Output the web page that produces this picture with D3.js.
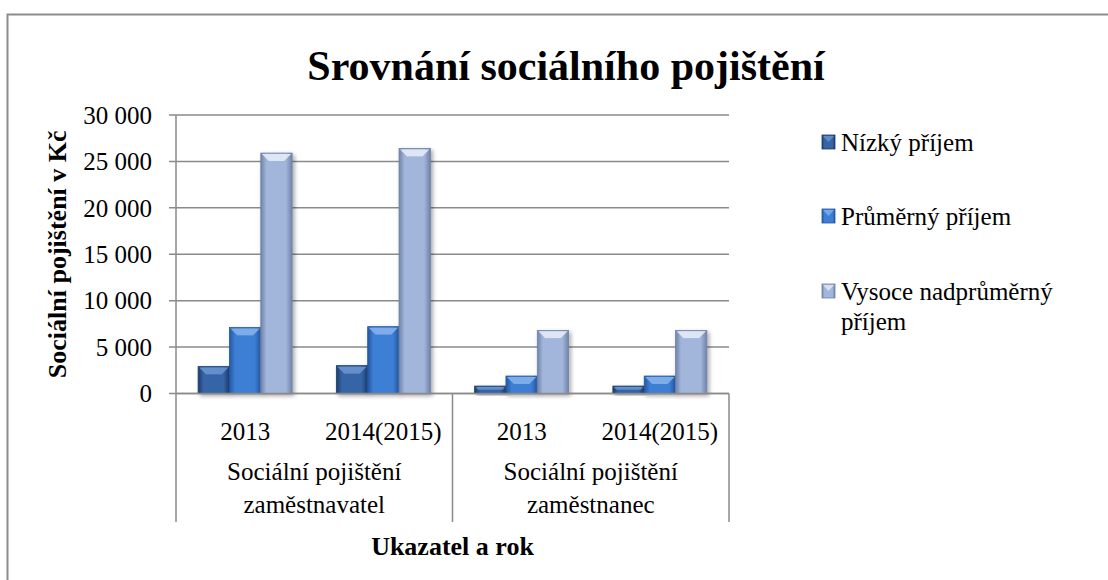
<!DOCTYPE html>
<html>
<head>
<meta charset="utf-8">
<script src="https://cdnjs.cloudflare.com/ajax/libs/d3/7.8.5/d3.min.js"></script>
<style>
  body { margin: 0; background: #fff; }
  svg, svg text, svg tspan { font-family: "Liberation Serif", "DejaVu Serif", serif; fill: #000; }
</style>
</head>
<body>
<div id="chart"></div>
<script>
let w = 1108, h = 580;

// data
let groups = ["Sociální pojištění zaměstnavatel", "Sociální pojištění zaměstnanec"];
let years = ["2013", "2014(2015)"];
let series = ["Nízký příjem", "Průměrný příjem", "Vysoce nadprůměrný příjem"];
let nizky = [2900, 3000, 800, 800];
let prumerny = [7100, 7200, 1880, 1880];
let vysoce = [25900, 26400, 6800, 6800];
let yTicks = [0, 5000, 10000, 15000, 20000, 25000, 30000];

let categories = [];
groups.forEach(g => years.forEach(y => categories.push(g + "|" + y)));
let values = [nizky, prumerny, vysoce];

let colors = [
    {edge: "#1d3d6e", mid: "#3565a6", top: "#6a93cf"},
    {edge: "#2457a3", mid: "#3d7fd4", top: "#84b1ea"},
    {edge: "#6f82a8", mid: "#a2b5da", top: "#e4ebf7"}
];
let serif = "Liberation Serif";

let svg = d3.select("#chart").append("svg")
    .attr("width", w)
    .attr("height", h)
    .attr("font-family", serif);

let defs = svg.append("defs");
colors.forEach((c, i) => {
    let g = defs.append("linearGradient")
        .attr("id", "grad" + i)
        .attr("x1", 0).attr("x2", 1).attr("y1", 0).attr("y2", 0);
    g.append("stop").attr("offset", "0%").attr("stop-color", c.edge);
    g.append("stop").attr("offset", "18%").attr("stop-color", c.mid);
    g.append("stop").attr("offset", "80%").attr("stop-color", c.mid);
    g.append("stop").attr("offset", "100%").attr("stop-color", c.edge);
});
let shadow = defs.append("filter").attr("id", "shadow")
    .attr("x", "-20%").attr("y", "-20%").attr("width", "150%").attr("height", "150%");
shadow.append("feDropShadow")
    .attr("dx", 2).attr("dy", 2).attr("stdDeviation", 2)
    .attr("flood-color", "#000").attr("flood-opacity", 0.35);

// outer border (only top and left visible)
svg.append("path")
    .attr("d", `M7.5,${h} V14.5 H${w}`)
    .attr("fill", "none")
    .attr("stroke", "#8c8c8c")
    .attr("stroke-width", 2);

let plotL = 176, plotR = 729, plotT = 115, plotB = 393.5;

let y = d3.scaleLinear().domain([0, 30000]).range([plotB, plotT]);
let x0 = d3.scaleBand().domain(categories).range([plotL, plotR]);
let x1 = d3.scaleBand().domain(series)
    .range([x0.bandwidth() * 0.16, x0.bandwidth() * 0.84]);

let loc = d3.formatLocale({decimal: ",", thousands: " ", grouping: [3], currency: ["", ""]});
let fmt = loc.format(",");

// gridlines
svg.append("g").selectAll("line")
    .data(yTicks)
    .enter()
    .append("line")
    .attr("x1", plotL - 7)
    .attr("x2", plotR)
    .attr("y1", d => y(d))
    .attr("y2", d => y(d))
    .attr("stroke", "#8a8a8a")
    .attr("stroke-width", 1.5);

// y axis line
svg.append("line")
    .attr("x1", plotL).attr("x2", plotL)
    .attr("y1", plotT).attr("y2", plotB)
    .attr("stroke", "#8a8a8a").attr("stroke-width", 1.5);

// y tick labels
svg.append("g").selectAll("text")
    .data(yTicks)
    .enter()
    .append("text")
    .attr("font-family", serif)
    .attr("x", plotL - 24)
    .attr("y", d => y(d))
    .attr("dy", "0.35em")
    .attr("text-anchor", "end")
    .attr("font-size", 25)
    .text(d => fmt(d));

// bars
let bars = svg.append("g");
categories.forEach((cat, ci) => {
    series.forEach((s, si) => {
        let v = values[si][ci];
        let bx = x0(cat) + x1(s);
        let bw = x1.bandwidth();
        let by = y(v);
        let bh = y(0) - y(v);
        let bev = Math.min(8, bh / 2);
        let g = bars.append("g").attr("filter", "url(#shadow)");
        g.append("rect")
            .attr("x", bx)
            .attr("y", by)
            .attr("width", bw)
            .attr("height", bh)
            .attr("fill", `url(#grad${si})`)
            .attr("stroke", colors[si].edge)
            .attr("stroke-width", 0.8);
        g.append("path")
            .attr("d", `M${bx + 1},${by + 1} L${bx + bw - 1},${by + 1} L${bx + bw - bev},${by + bev} L${bx + bev},${by + bev} Z`)
            .attr("fill", colors[si].top)
            .attr("opacity", 0.9);
        g.append("path")
            .attr("d", `M${bx + bev},${by + bev} L${bx + bw - bev},${by + bev} L${bx + bw / 2},${by + bev + Math.min(6, bh / 3)} Z`)
            .attr("fill", colors[si].mid)
            .attr("opacity", 0.6);
    });
});

// x axis baseline
svg.append("line")
    .attr("x1", plotL).attr("x2", plotR)
    .attr("y1", plotB).attr("y2", plotB)
    .attr("stroke", "#8a8a8a").attr("stroke-width", 1.5);

// group separators
let sepY2 = 522;
let sepXs = [plotL];
groups.forEach(g => sepXs.push(x0(g + "|" + years[years.length - 1]) + x0.bandwidth()));
svg.append("g").selectAll("line")
    .data(sepXs)
    .enter()
    .append("line")
    .attr("x1", d => d).attr("x2", d => d)
    .attr("y1", plotB).attr("y2", sepY2)
    .attr("stroke", "#8a8a8a").attr("stroke-width", 1.5);

// year labels
svg.append("g").selectAll("text")
    .data(categories)
    .enter()
    .append("text")
    .attr("font-family", serif)
    .attr("x", d => x0(d) + x0.bandwidth() / 2)
    .attr("y", 440)
    .attr("text-anchor", "middle")
    .attr("font-size", 25)
    .text(d => d.split("|")[1]);

// group labels
groups.forEach(g => {
    let cx = (x0(g + "|" + years[0]) + x0(g + "|" + years[1]) + x0.bandwidth()) / 2;
    let words = g.split(" ");
    let t = svg.append("text")
        .attr("font-family", serif)
        .attr("text-anchor", "middle")
        .attr("font-size", 25);
    t.append("tspan").attr("x", cx).attr("y", 480).text(words.slice(0, 2).join(" "));
    t.append("tspan").attr("x", cx).attr("y", 513).text(words.slice(2).join(" "));
});

// axis titles
svg.append("text")
    .attr("font-family", serif)
    .attr("x", (plotL + plotR) / 2)
    .attr("y", 555)
    .attr("text-anchor", "middle")
    .attr("font-size", 26)
    .attr("font-weight", "bold")
    .text("Ukazatel a rok");

svg.append("text")
    .attr("font-family", serif)
    .attr("transform", `translate(66, ${(plotT + plotB) / 2}) rotate(-90)`)
    .attr("text-anchor", "middle")
    .attr("font-size", 26)
    .attr("font-weight", "bold")
    .text("Sociální pojištění v Kč");

// title
svg.append("text")
    .attr("font-family", serif)
    .attr("x", 566)
    .attr("y", 80)
    .attr("text-anchor", "middle")
    .attr("font-size", 42)
    .attr("font-weight", "bold")
    .text("Srovnání sociálního pojištění");

// legend
let legendY = [142, 216, 291];
let legend = svg.append("g");
series.forEach((s, i) => {
    legend.append("rect")
        .attr("x", 822)
        .attr("y", legendY[i] - 7)
        .attr("width", 13)
        .attr("height", 14)
        .attr("fill", `url(#grad${i})`)
        .attr("stroke", colors[i].edge)
        .attr("stroke-width", 0.8);
    legend.append("path")
        .attr("d", `M823,${legendY[i] - 6} L834,${legendY[i] - 6} L828.5,${legendY[i]} Z`)
        .attr("fill", colors[i].top)
        .attr("opacity", 0.8);
    let t = legend.append("text")
        .attr("font-family", serif)
        .attr("font-size", 25);
    if (i === 2) {
        t.append("tspan").attr("x", 841).attr("y", legendY[i]).attr("dy", "0.35em").text("Vysoce nadprůměrný");
        t.append("tspan").attr("x", 841).attr("y", legendY[i] + 30).attr("dy", "0.35em").text("příjem");
    } else {
        t.append("tspan").attr("x", 841).attr("y", legendY[i]).attr("dy", "0.35em").text(s);
    }
});
</script>
</body>
</html>
